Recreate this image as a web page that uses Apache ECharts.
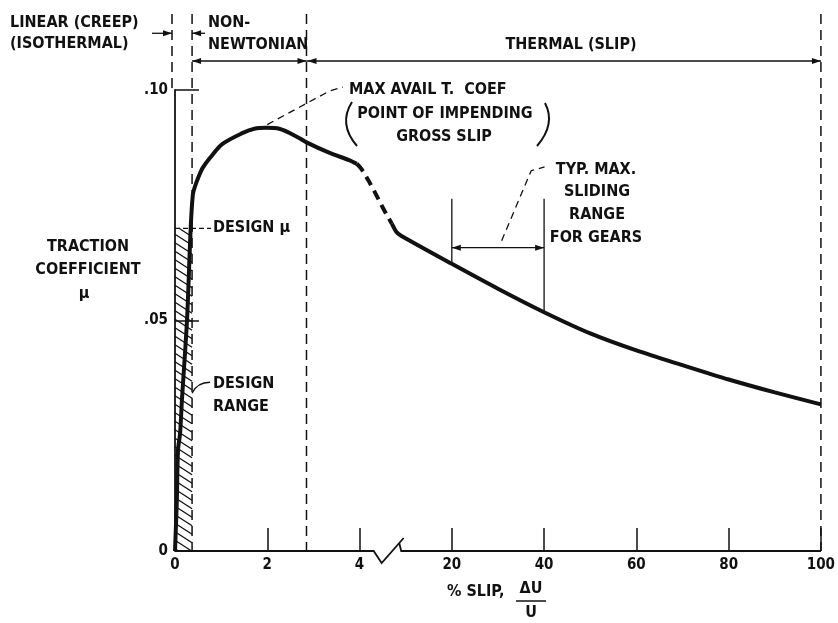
<!DOCTYPE html>
<html lang="en">
<head>
<meta charset="UTF-8">
<title>Traction coefficient vs slip</title>
<script type="text/javascript" src="https://cdn.jsdelivr.net/npm/echarts@6/dist/echarts.min.js"></script>
<style>
    html, body { margin: 0; padding: 0; background: #fff; }
</style>
</head>
<body>
<div id="main" style="width: 838px; height: 623px;"></div>
<script type="text/javascript">

var chartDom = document.getElementById('main');
var myChart = echarts.init(chartDom);
var option;

// tick labels (x axis is broken between 4 and 20 % slip)
var xTicks = [0, 2, 4, 20, 40, 60, 80, 100];
var yTicks = [0, 0.05, 0.10];

// traction curve: slip %, traction coefficient
// solid part up to the break
var lowSlip = [0, 0.04, 0.065, 0.11, 0.15, 0.26, 0.32, 0.34, 0.36, 0.39, 0.43, 0.52, 0.6, 0.76, 1.03, 1.47, 1.72, 1.98, 2.26, 2.69, 2.84, 3.34, 3.77, 3.94];
var lowMu   = [0, 0.011, 0.0219, 0.0255, 0.0327, 0.050, 0.0652, 0.0700, 0.0738, 0.0775, 0.0790, 0.0814, 0.0831, 0.0853, 0.0883, 0.0907, 0.0916, 0.0918, 0.0916, 0.0896, 0.0887, 0.0864, 0.0848, 0.0840];
// dashed part across the break
var breakSlip = [3.94, 4.04, 4.22, 4.37, 4.54, 4.70];
var breakMu   = [0.0840, 0.0829, 0.0799, 0.0771, 0.0738, 0.0710];
// solid part after the break
var highSlip = [7, 8, 9, 20, 30, 40, 50, 60, 70, 80, 90, 100];
var highMu   = [0.0710, 0.0692, 0.0684, 0.0623, 0.0569, 0.0518, 0.0472, 0.0435, 0.0403, 0.0372, 0.0344, 0.0318];

// regime boundaries (slip %), design point, typical gear sliding range
var zoneSlip = [0, 0.37, 2.85, 100];
var designMu = 0.070;
var designSlip = 0.37;
var gearRange = [20, 40];
var peakSlip = 2;

var FONT = "'Liberation Sans Narrow', 'DejaVu Sans Condensed', sans-serif";
var INK = '#111';

// broken axis: 0..4 % uses one scale, 20..100 % another
function pos(s) {
    return s <= 5 ? s / 2 : 3 + (s - 20) / 20;
}
function pairs(xs, ys) {
    return xs.map(function (s, i) { return [pos(s), ys[i]]; });
}
function muAt(s) {
    return highMu[highSlip.indexOf(s)];
}

function renderNotes(params, api) {
    var kids = [];
    function pt(s, mu) { return api.coord([pos(s), mu]); }
    function seg(a, b, dash, w) {
        kids.push({ type: 'line', shape: { x1: a[0], y1: a[1], x2: b[0], y2: b[1] },
            style: { stroke: INK, lineWidth: w || 1.5, lineDash: dash || null } });
    }
    function poly(points, dash, w) {
        kids.push({ type: 'polyline', shape: { points: points },
            style: { stroke: INK, fill: null, lineWidth: w || 1.5, lineDash: dash || null } });
    }
    function head(tip, dx, dy) {
        var L = 9, W = 3;
        kids.push({ type: 'polygon', shape: { points: [tip,
            [tip[0] - dx * L - dy * W, tip[1] - dy * L + dx * W],
            [tip[0] - dx * L + dy * W, tip[1] - dy * L - dx * W]] },
            style: { fill: INK } });
    }

    var o = pt(0, 0);
    var y0 = o[1];
    var topY = pt(0, 0.1165)[1];

    // x axis line with the break mark
    var b1 = api.coord([2.153, 0])[0];
    var b2 = api.coord([2.43, 0])[0];
    var xEnd = pt(100, 0)[0];
    poly([[o[0], y0], [b1, y0], [b1 + 8, y0 + 12], [b1 + 30, y0 - 13]], null, 1.8);
    poly([[b2, y0 - 8], [b2 + 2, y0], [xEnd, y0]], null, 1.8);

    // hatched design range
    var hb = pt(designSlip, designMu);
    var xL = o[0], xR = hb[0], yT = hb[1], yB = y0;
    var k = 0.65, w = xR - xL;
    for (var c = -k * w; c < yB - yT; c += 8.5) {
        var x1 = xL, y1 = yT + c, x2 = xR, y2 = yT + c + k * w;
        if (y1 < yT) { x1 = xL + (yT - y1) / k; y1 = yT; }
        if (y2 > yB) { x2 = xR - (y2 - yB) / k; y2 = yB; }
        if (x2 > x1) seg([x1, y1], [x2, y2], null, 1.3);
    }
    seg([xL, yT], [xR + 19, yT], [5, 3], 1.3);

    // regime boundaries
    var zx = zoneSlip.map(function (z, i) { return pt(z, 0)[0] - (i === 0 ? 3 : 0); });
    zx.forEach(function (x, i) {
        var yb = i === 0 ? pt(0, 0.10)[1] : y0;
        seg([x, topY], [x, yb], [10, 6], 1.5);
    });

    // regime arrows
    var ay = pt(0, 0.1063)[1];
    seg([zx[1], ay], [zx[2], ay], null, 1.5);
    head([zx[1], ay], -1, 0); head([zx[2], ay], 1, 0);
    seg([zx[2], ay], [zx[3], ay], null, 1.5);
    head([zx[2] + 1, ay], -1, 0); head([zx[3], ay], 1, 0);
    var sy = pt(0, 0.1123)[1];
    seg([zx[0] - 20, sy], [zx[0], sy], null, 1.3);
    head([zx[0], sy], 1, 0);
    seg([zx[1] + 13, sy], [zx[1], sy], null, 1.3);
    head([zx[1], sy], -1, 0);

    // typical sliding range for gears
    var gTop = pt(0, 0.0764)[1];
    var g1 = pt(gearRange[0], muAt(gearRange[0]));
    var g2 = pt(gearRange[1], muAt(gearRange[1]));
    seg([g1[0], gTop], g1, null, 1.3);
    seg([g2[0], gTop], g2, null, 1.3);
    var gy = pt(0, 0.0658)[1];
    seg([g1[0], gy], [g2[0], gy], null, 1.3);
    head([g1[0], gy], -1, 0); head([g2[0], gy], 1, 0);

    // leaders
    poly([pt(peakSlip, 0.0925), pt(3.35, 0.0998), pt(3.64, 0.1006)], [7, 5], 1.3);
    poly([pt(30.8, 0.0673), pt(37.2, 0.0825), pt(40.1, 0.0833)], [7, 5], 1.3);
    var d1 = pt(designSlip, 0.0342), d2 = pt(0.76, 0.0366);
    kids.push({ type: 'bezierCurve', shape: { x1: d1[0], y1: d1[1], x2: d2[0], y2: d2[1],
        cpx1: d1[0] + 5, cpy1: d2[1] }, style: { stroke: INK, fill: null, lineWidth: 1.3 } });

    return { type: 'group', children: kids };
}

function txt(text, x, y, align) {
    return { type: 'text', x: x, y: y, silent: true,
        style: { text: text, fill: INK, fontFamily: FONT, fontWeight: 'bold', fontSize: 16,
            align: align || 'left', verticalAlign: 'middle' } };
}

option = {
    animation: false,
    backgroundColor: '#fff',
    grid: { left: 175, right: 16, top: 90, bottom: 72 },
    xAxis: {
        type: 'value', min: 0, max: 7, interval: 1,
        axisLine: { show: false },
        axisTick: { inside: true, length: 23, lineStyle: { color: INK, width: 1.5 } },
        splitLine: { show: false },
        axisLabel: {
            color: INK, fontFamily: FONT, fontWeight: 'bold', fontSize: 15, margin: 7,
            formatter: function (v) {
                for (var i = 0; i < xTicks.length; i++) {
                    if (Math.abs(pos(xTicks[i]) - v) < 1e-6) return String(xTicks[i]);
                }
                return '';
            }
        }
    },
    yAxis: {
        type: 'value', min: yTicks[0], max: yTicks[2], interval: yTicks[1],
        axisLine: { show: true, lineStyle: { color: INK, width: 1.8 } },
        axisTick: { inside: true, length: 24, lineStyle: { color: INK, width: 1.5 } },
        splitLine: { show: false },
        axisLabel: {
            color: INK, fontFamily: FONT, fontWeight: 'bold', fontSize: 15, margin: 7,
            formatter: function (v) { return v === 0 ? '0' : v.toFixed(2).replace(/^0/, ''); }
        }
    },
    graphic: [
        txt('LINEAR (CREEP)', 10, 23),
        txt('(ISOTHERMAL)', 10, 44),
        txt('NON-', 208, 23),
        txt('NEWTONIAN', 208, 45),
        txt('THERMAL (SLIP)', 571, 45, 'center'),
        txt('MAX AVAIL T.  COEF', 349, 90),
        txt('POINT OF IMPENDING', 445, 114, 'center'),
        txt('GROSS SLIP', 444, 137, 'center'),
        txt('TYP. MAX.', 596, 170, 'center'),
        txt('SLIDING', 597, 192, 'center'),
        txt('RANGE', 597, 215, 'center'),
        txt('FOR GEARS', 596, 238, 'center'),
        txt('DESIGN \u03bc', 213, 228),
        txt('DESIGN', 213, 384),
        txt('RANGE', 213, 407),
        txt('TRACTION', 88, 247, 'center'),
        txt('COEFFICIENT', 88, 270, 'center'),
        txt('\u03bc', 84, 294, 'center'),
        txt('% SLIP,', 447, 592),
        txt('\u0394U', 531, 589, 'center'),
        txt('U', 531, 613, 'center'),
        { type: 'line', silent: true, shape: { x1: 516, y1: 601, x2: 546, y2: 601 },
            style: { stroke: INK, lineWidth: 1.5 } },
        { type: 'bezierCurve', silent: true, shape: { x1: 352, y1: 102, x2: 357, y2: 146, cpx1: 338, cpy1: 124 },
            style: { stroke: INK, fill: null, lineWidth: 2 } },
        { type: 'bezierCurve', silent: true, shape: { x1: 545, y1: 103, x2: 537, y2: 146, cpx1: 556, cpy1: 124 },
            style: { stroke: INK, fill: null, lineWidth: 2 } }
    ],
    series: [
        {
            type: 'custom',
            coordinateSystem: 'cartesian2d',
            silent: true,
            z: 1,
            data: [[0, 0]],
            renderItem: renderNotes
        },
        {
            type: 'line', z: 3, symbol: 'none', smooth: 0.3,
            lineStyle: { color: INK, width: 4 },
            data: pairs(lowSlip, lowMu)
        },
        {
            type: 'line', z: 3, symbol: 'none', smooth: 0.3,
            lineStyle: { color: INK, width: 4, type: [10, 6] },
            data: pairs(breakSlip, breakMu)
        },
        {
            type: 'line', z: 3, symbol: 'none', smooth: 0.3,
            lineStyle: { color: INK, width: 4 },
            data: pairs(highSlip, highMu)
        }
    ]
};

option && myChart.setOption(option);
</script>
</body>
</html>
